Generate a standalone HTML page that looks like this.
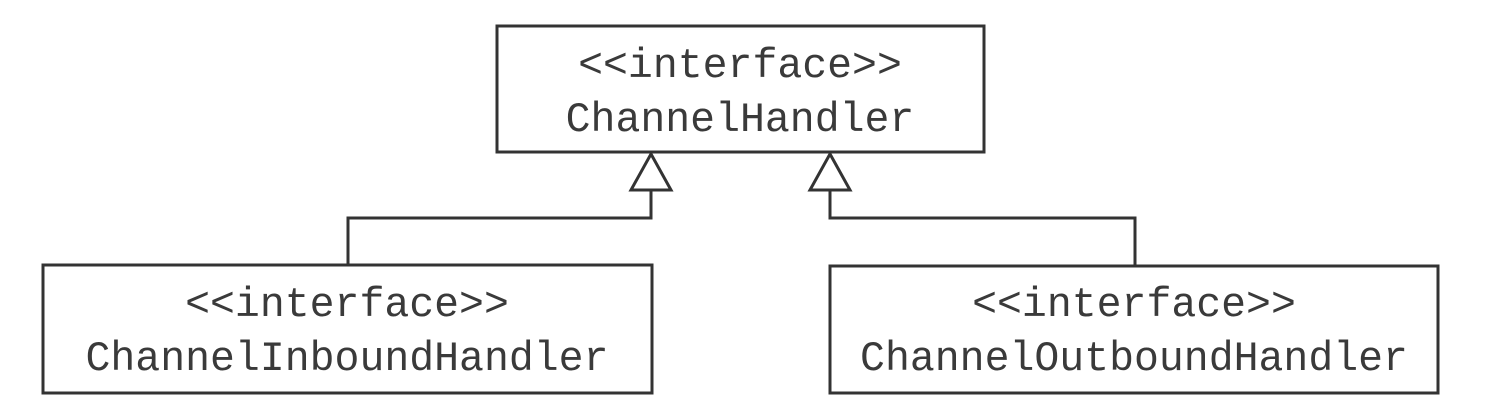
<!DOCTYPE html>
<html><head><meta charset="utf-8"><style>
html,body{margin:0;padding:0;background:#fff;}
svg{display:block;}
text{font-family:"Liberation Mono",monospace;font-size:41.5px;fill:#3a3a3a;text-anchor:middle;}
</style></head><body>
<svg width="1488" height="410" viewBox="0 0 1488 410" xmlns="http://www.w3.org/2000/svg">
<g fill="none" stroke="#333" stroke-width="3">
<rect x="497" y="26" width="487" height="126"/>
<rect x="43" y="265" width="609" height="128"/>
<rect x="830" y="266" width="608" height="127"/>
<polyline points="651,190 651,218 348,218 348,265"/>
<polyline points="830,190 830,218 1135,218 1135,266"/>
<polygon points="651,154 631,190 671,190"/>
<polygon points="830,154 810,190 850,190"/>
</g>
<text x="740" y="77">&lt;&lt;interface&gt;&gt;</text>
<text x="740" y="131">ChannelHandler</text>
<text x="347" y="316">&lt;&lt;interface&gt;&gt;</text>
<text x="347" y="370">ChannelInboundHandler</text>
<text x="1134" y="316">&lt;&lt;interface&gt;&gt;</text>
<text x="1134" y="370">ChannelOutboundHandler</text>
</svg>
</body></html>
